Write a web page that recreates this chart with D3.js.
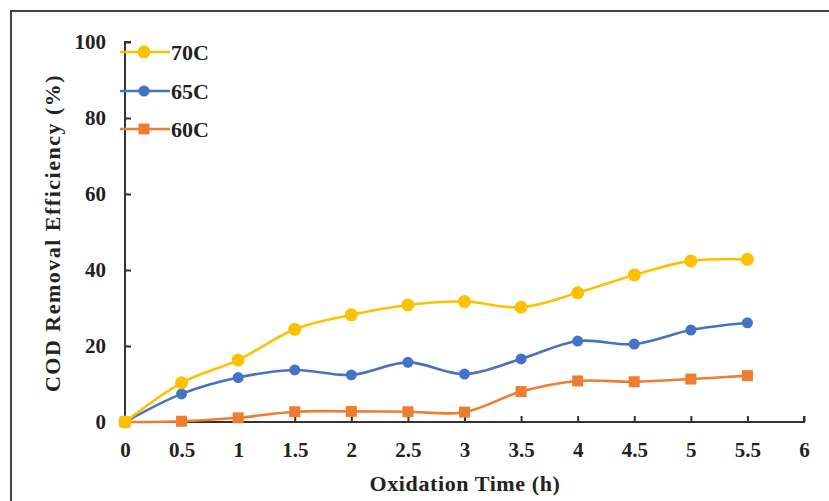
<!DOCTYPE html>
<html><head><meta charset="utf-8">
<script src="https://cdn.jsdelivr.net/npm/d3@7"></script>
<style>body{margin:0;background:#fff}svg{display:block}text{font-family:"Liberation Serif","Times New Roman",serif;font-weight:bold;fill:#222}</style>
</head><body>
<svg id="c" width="829" height="501"></svg>
<script>
const times = [0,0.5,1,1.5,2,2.5,3,3.5,4,4.5,5,5.5];
const s70 = [0,10.3,16.3,24.4,28.2,30.8,31.7,30.2,34.0,38.7,42.4,42.8];
const s65 = [0,7.4,11.7,13.7,12.4,15.7,12.6,16.6,21.3,20.5,24.2,26.1];
const s60 = [0,0.2,1.1,2.7,2.8,2.7,2.6,8.0,10.8,10.6,11.3,12.2];
const seriesNames = ["70C","65C","60C"];
const xTicks = [0,0.5,1,1.5,2,2.5,3,3.5,4,4.5,5,5.5,6];
const yTicks = [0,20,40,60,80,100];

const svg = d3.select("#c");
svg.append("rect").attr("x",11).attr("y",11).attr("width",900).attr("height",600)
  .attr("fill","none").attr("stroke","#444").attr("stroke-width",2);

const x = d3.scaleLinear().domain([0,6]).range([125,804]);
const y = d3.scaleLinear().domain([0,100]).range([422,42]);

const series = [
  {name:seriesNames[0], vals:s70, color:"#FFC000", shape:"circle", r:6.5},
  {name:seriesNames[1], vals:s65, color:"#4472C4", shape:"circle", r:5.5},
  {name:seriesNames[2], vals:s60, color:"#ED7D31", shape:"square", r:5.5}
];

// axes
const xAxis = d3.axisBottom(x).tickValues(xTicks).tickSize(-6).tickPadding(20).tickFormat(d=>d);
const gx = svg.append("g").attr("transform","translate(0,422)").call(xAxis);
const yAxis = d3.axisLeft(y).tickValues(yTicks).tickSize(-6).tickPadding(19);
const gy = svg.append("g").attr("transform","translate(125,0)").call(yAxis);
[gx,gy].forEach(g=>{
  g.attr("font-size",null).attr("font-family",null);
  g.select(".domain").attr("stroke","#333").attr("stroke-width",2);
  g.selectAll(".tick line").attr("stroke","#333").attr("stroke-width",2);
  g.selectAll(".tick text").style("font-size","21px").attr("fill","#222");
});
gx.select(".domain").attr("d","M125,-6V0H804V-6");
gy.select(".domain").attr("d","M6,42H0V422");

const line = d3.line().x((d,i)=>x(times[i])).y(d=>y(d)).curve(d3.curveCardinal.tension(0));

function marker(g, cx, cy, s){
  if(s.shape==="circle") g.append("circle").attr("cx",cx).attr("cy",cy).attr("r",s.r).attr("fill",s.color);
  else g.append("rect").attr("x",cx-s.r).attr("y",cy-s.r).attr("width",2*s.r).attr("height",2*s.r).attr("fill",s.color);
}

[...series].reverse().forEach(s=>{
  const g = svg.append("g");
  g.append("path").datum(s.vals).attr("d",line).attr("fill","none").attr("stroke",s.color).attr("stroke-width",2.6);
  s.vals.forEach((v,i)=>marker(g,x(times[i]),y(v),s));
});

// legend
const legY = [52,91,129];
series.forEach((s,i)=>{
  const g = svg.append("g");
  g.append("line").attr("x1",120).attr("x2",170).attr("y1",legY[i]).attr("y2",legY[i]).attr("stroke",s.color).attr("stroke-width",2.6);
  marker(g,144,legY[i],s);
  g.append("text").attr("x",171).attr("y",legY[i]).attr("dy","0.35em").style("font-size","22px").text(s.name);
});

// axis titles
svg.append("text").attr("x",465).attr("y",491).attr("text-anchor","middle").style("font-size","22px").style("letter-spacing","0.6px").text("Oxidation Time (h)");
svg.append("text").attr("transform","translate(60,233) rotate(-90)").attr("text-anchor","middle").style("font-size","22px").style("letter-spacing","1.5px").text("COD Removal  Efficiency (%)");
</script>
</body></html>
